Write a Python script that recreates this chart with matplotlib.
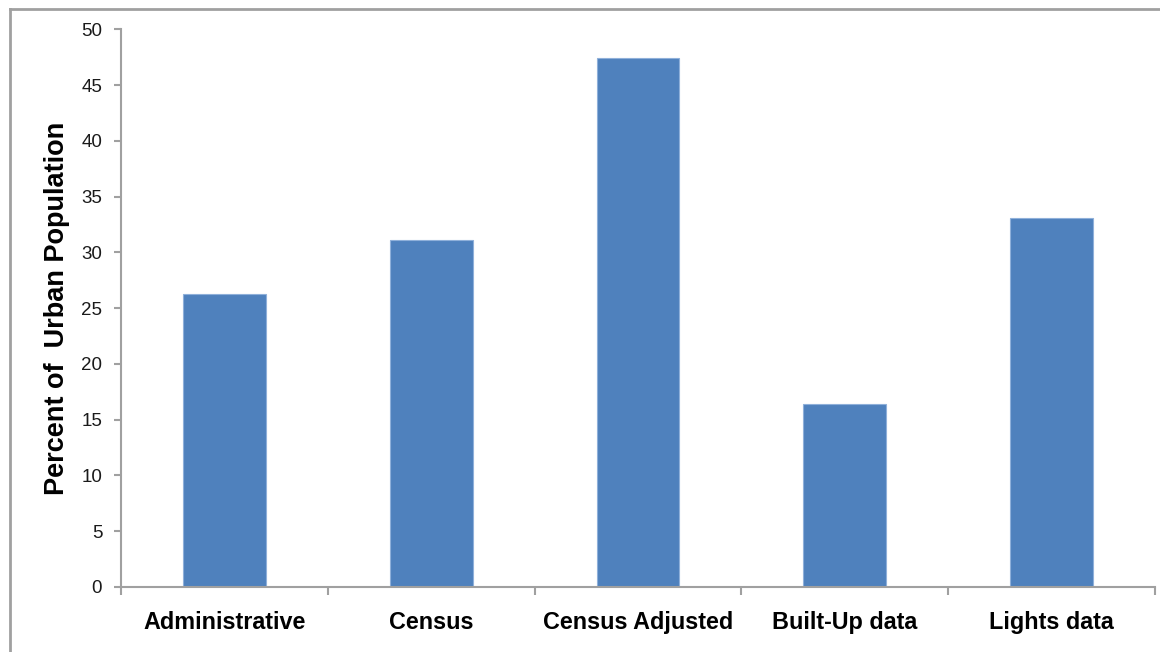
import numpy as np
import matplotlib
matplotlib.use('Agg')
import matplotlib.pyplot as plt
from matplotlib.lines import Line2D

categories = ['Administrative', 'Census', 'Census Adjusted', 'Built-Up data', 'Lights data']
urban_pct = [26.3, 31.15, 47.4, 16.4, 33.1]
yticks = [0, 5, 10, 15, 20, 25, 30, 35, 40, 45, 50]

plt.rcParams['font.family'] = ['Liberation Sans', 'DejaVu Sans']

fig = plt.figure(figsize=(11.6, 6.52), dpi=100)
ax = fig.add_axes([0.1043, 0.0997, 0.8914, 0.8551])

x = np.arange(len(categories))
ax.bar(x, urban_pct, width=0.4, color='#4F81BD', edgecolor='#8FB0DA', linewidth=0.8, zorder=2)

ax.set_xlim(-0.5, len(categories) - 0.5)
ax.set_ylim(0, 50)
ax.set_yticks(yticks)
ax.set_yticklabels([str(t) for t in yticks], fontsize=13.5, color='#1a1a1a')

# category boundary ticks on the x axis, labels centred under the bars
ax.set_xticks(np.arange(-0.5, len(categories), 1.0))
ax.set_xticklabels([])
ax.set_xticks(x, minor=True)
ax.set_xticklabels(categories, minor=True, fontsize=16.8, fontweight='bold')
ax.tick_params(axis='x', which='minor', length=0, pad=17.5)
ax.tick_params(axis='x', which='major', length=6, color='#a0a0a0', width=1.5, direction='out')
ax.tick_params(axis='y', length=5, color='#a0a0a0', width=1.5, direction='out', pad=8.5)

for s in ['top', 'right']:
    ax.spines[s].set_visible(False)
for s in ['left', 'bottom']:
    ax.spines[s].set_color('#a0a0a0')
    ax.spines[s].set_linewidth(1.5)

ax.set_ylabel('Percent of  Urban Population', fontsize=19.5, fontweight='bold', labelpad=8)

# outer chart frame (left and top edges)
fig.add_artist(Line2D([10/1160, 10/1160], [0, 1 - 9/652], transform=fig.transFigure, color='#a0a0a0', lw=2))
fig.add_artist(Line2D([10/1160, 1], [1 - 9/652, 1 - 9/652], transform=fig.transFigure, color='#a0a0a0', lw=2))

fig.savefig('out.png', dpi=100)
